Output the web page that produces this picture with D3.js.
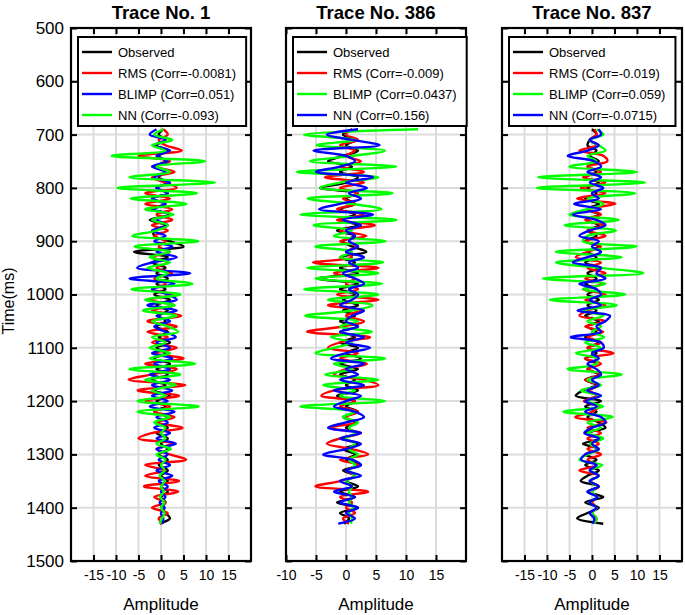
<!DOCTYPE html>
<html>
<head>
<meta charset="utf-8">
<script src="https://cdn.jsdelivr.net/npm/d3@7/dist/d3.min.js"></script>
<style>
  body { margin: 0; background: #fff; }
  svg { font-family: 'Liberation Sans', Arial, Helvetica, sans-serif; }
</style>
</head>
<body>
<svg id="chart" width="685" height="615"></svg>
<script>

// ---- Data ----

// Sample times (ms)
const times = [
  690, 700, 710, 720, 730, 740, 750, 760, 770, 780,
  790, 800, 810, 820, 830, 840, 850, 860, 870, 880,
  890, 900, 910, 920, 930, 940, 950, 960, 970, 980,
  990, 1000, 1010, 1020, 1030, 1040, 1050, 1060, 1070, 1080,
  1090, 1100, 1110, 1120, 1130, 1140, 1150, 1160, 1170, 1180,
  1190, 1200, 1210, 1220, 1230, 1240, 1250, 1260, 1270, 1280,
  1290, 1300, 1310, 1320, 1330, 1340, 1350, 1360, 1370, 1380,
  1390, 1400, 1410, 1420, 1430
];

const timeTicks = [500, 600, 700, 800, 900, 1000, 1100, 1200, 1300, 1400, 1500];
const timeDomain = [500, 1500];

const titles = ['Trace No. 1', 'Trace No. 386', 'Trace No. 837'];

const ampDomain1 = [-20, 20];
const ampDomain2 = [-10, 20];
const ampDomain3 = [-20, 20];
const ampTicks1 = [-15, -10, -5, 0, 5, 10, 15];
const ampTicks2 = [-10, -5, 0, 5, 10, 15];
const ampTicks3 = [-15, -10, -5, 0, 5, 10, 15];

const labels1 = ['Observed', 'RMS (Corr=-0.0081)', 'BLIMP (Corr=0.051)', 'NN (Corr=-0.093)'];
const labels2 = ['Observed', 'RMS (Corr=-0.009)', 'BLIMP (Corr=0.0437)', 'NN (Corr=0.156)'];
const labels3 = ['Observed', 'RMS (Corr=-0.019)', 'BLIMP (Corr=0.059)', 'NN (Corr=-0.0715)'];

// Trace No. 1
const obs1 = [
  0.5, -0.5, 1, -1, 1.5, -0.5, 1, -1.5, 1, -0.5,
  1.5, -1, 1.5, -2, 1, -2, 2, -2.5, 1, -1.5,
  -1.5, 2, 5, -6, 1.5, -2, 1, -1, 1.5, -1,
  1, -1.5, 2, -1, 1.5, -0.5, 1, -1, 1.5, -0.5,
  2, -1, 1, -1.5, 2, -1, 1.5, -2, 1, -1.5,
  2, -1, 1, -1.5, 1.5, -0.5, 1.5, -1, 1.5, 0,
  1.5, -0.5, 1.5, -0.5, 1.5, 0, 1.5, 0, 1.5, 0,
  1, 0, 1, 2, -0.3
];
const rms1 = [
  0.5, 1.5, -0.5, 1, 4.6, -5, 2, -1, 3, -2,
  1, 3.5, -3.5, 2, -3.5, 2.5, -1, 2.5, -2, 1.5,
  -1.5, 1, -0.5, 2, -2, 1.5, -1, 2.5, -1.5, 1,
  -2, 2.5, -2.5, 3, -2, 4.5, -3, 3.5, -3, 1.5,
  -2, 3.5, -1.5, 5, -3.5, 3.5, -2, -7.2, 5.4, -5.2,
  4, -3.5, 2, -1.5, 3, -1, 4.8, -2, -5, 2.5,
  -1, 2, 5.6, -3.5, 1, -3.5, 4, -3.8, 3.8, -1.5,
  1, -2, 1.5, -0.5, 0.5
];
const blimp1 = [
  -1, -2.5, 1, -1.5, 2, -1, 1.5, -2, 1, -1.5,
  2, -1, 1.5, -2, 1, -1.5, 2, -1, 1.5, -2,
  1, -1.5, 2.5, -1, 3.5, -2, -5.3, 6.5, -7, 3,
  -2, 1.5, 3.5, -3, 3.5, -1, 2, -1.5, 1, 3.3,
  -1, 2, -2, 2.5, -1.5, 2, -2.5, 2, -2, 2.5,
  -2, 1.5, -2.5, 3, -1, 1.5, -1.5, 2, -1, 3.3,
  -1, 1.5, -0.5, 2, -1, 2.5, -0.5, 1.5, 0, 1,
  -0.3, 0.8, 0, 0.5, 0.3
];
const nn1 = [
  0.5, -1.5, 2.5, -2, 1, -11, 9.8, -1, 2, -7,
  12, -9.7, 8, -6.8, 5.6, -3.5, 2.8, -2, 1.5, -1,
  -6.4, 8.3, -5.9, 2, -2.5, 2, -3, 1.5, -1, 7,
  -6.6, 4.3, -3.5, 3, -4, 3.5, -2, 1.5, 3.8, -2,
  1, -2.5, 2, -2.5, 7.6, -7, 4.3, -3.5, 3.3, -2,
  1, -5.2, 8.4, -5.2, 2, -1.5, 1, 0, 1, -1,
  2.2, -1, 1, 0, 0.8, -0.3, 0.8, 0, 0.6, -0.2,
  0.7, 0, 0.8, 0.2, -0.3
];

// Trace No. 386
const obs2 = [
  1, -0.5, 1.5, 0, 2, -0.5, -3, 1, -1, 2,
  0, -4.3, 2, 0, 1.5, -1, 1.5, -1, 2, -1.5,
  1.5, -0.5, 1, 3.4, -1, 1.5, -1, 2, -4.6, 2,
  -1, 1.5, -0.5, 2, -0.5, 1.5, -1, 2, -1, 1.5,
  -1, 2, 0, 2.5, -1, 2, -1, 1.5, 0, 2,
  -1.5, 1.5, 0, 2, -0.5, 1.5, 0, 2, -0.5, 2,
  -0.5, 1.5, 0, 2.5, -0.5, 1.5, 0, 2, -1, 1.5,
  -1.5, 2, -1, 0.5, -0.3
];
const rms2 = [
  1, 0, 2, -1, 1.5, 0, 2.5, -1, 3, -3.5,
  3, -1, 2, -0.5, 1.5, -1.5, 3, -1.5, 4.8, -1,
  3.4, -1, 2, 0, 1, -5.5, 5.4, -2, 1.5, 0,
  2, -1.5, 5.4, -3, 2.5, 0, 3, -0.5, -6.5, 4,
  -1, -3, 2, -1, 3.5, 0, -2, 3, 5.4, -2,
  -4.1, 1.5, -1, 2, 0, 1.5, -2.8, 2.5, -1, -3.2,
  1, 3.7, -1, 2, 0, 1.5, -1, -5.1, 3.7, -1,
  1, 0, 1.5, -0.5, 0.5
];
const blimp2 = [
  12, -7, 1.5, -4.9, 6.5, 1, -6, 8.4, -8.2, 5.4,
  -1, -4.3, 7.8, -6.4, 1, 5.9, -7.6, 8.4, -5.4, 1,
  -2, 6.6, -5.1, 1, -1, 6.2, -6.5, 5.4, -5.1, 6,
  -7, 5.4, -3, 4.4, 1, -6.8, 2, -1, 4.3, -2.5,
  1, -2, -5.1, 6.5, -2, 1, -3.5, 5.4, -3.8, 1.5,
  -1, 6.5, -7.6, 1.5, -0.5, 2, 0.5, 1.5, 0, 1.5,
  0.5, 2, 0.5, 1.5, 0.5, 1.5, 0, 1, 0.5, 1,
  0.5, 1.2, 0.5, 1, 0.8
];
const nn2 = [
  2, -3.2, 1, 5.6, -5.4, 0, 1.5, -1, -5, 4.5,
  0, 3.5, 0.5, 2.5, -1, -4.5, 4.5, -0.5, 2.5, 0,
  1.5, 0.5, 2, 0, 3, 0.5, 2, -0.5, 1.5, 3,
  0.5, 2, 1, -1, 3, 1, 0, 2, -1, 3,
  0, 4, 0, -2.5, 3, 0, 2, -1, 3, -2,
  2.5, 0, -2, 1.5, 3, 0, -3, 2.5, -1, 2.5,
  0, -3.8, 1, 2.5, 0, 2.5, -1, 1, -2, 1.5,
  -1, 2, 0, 1.5, -1.3
];

// Trace No. 837
const obs3 = [
  0, 1, -0.5, -1, 1, -0.5, 1.5, -1, 1, -1.5,
  1.5, -1, 1, -1.5, 1.5, -1, 1.5, -1, 1.5, -1,
  1, -1.5, 1.5, -1, 1, -1.5, 1.5, -1, 1, -1.5,
  1, -1, 1.5, -1, 1, -1.5, 1.5, -1, 1, -1.5,
  1.5, -1, 1, -1.5, 1, -1, 1.5, -1.5, 1, -2,
  -3.6, 2, -1.5, 1, -1, 1.5, 3, -1.5, 2, -2,
  1.5, -1.5, 1, -1.5, 1.5, -1, -2.5, 1.5, -1, 2.5,
  -1.5, 1.5, -1, -3.3, 2.5
];
const rms3 = [
  0.5, 1, -0.5, 1, -2.8, 2.6, 3.4, -1, 2, -2,
  3, -2.5, 3, -3.3, 5.2, -1, 2, -1.5, 2.5, -1,
  3, -1.5, 2, -1, -3.6, 2, -1, 3, -1.5, 2.5,
  -2, 3, -1.5, 3, -1, -2.8, 3, -1.5, 2.5, -1,
  2, -1, 4.8, -1.5, 2, -1, 2, -1.5, 1.5, -0.5,
  1, -1.8, 1.5, 0, -3.7, 3.2, -1, 2, -1, 1.5,
  -1, 2, -1, 1, -2.8, 1.5, -0.5, 1.5, 0, 1,
  0, 1, 0, 1, 0.5
];
const blimp3 = [
  1, 2.5, -0.5, 1.5, 3, -1, 1, -5, 10, -12,
  11.8, -12.3, 9.6, -1, 2.5, -1, -5, 5.9, -6.1, 5.3,
  -1, -2, 9.9, -8.1, 6.6, -8, 2, 11.4, -10.9, 3,
  -2, 7.4, -9.4, 5.5, -2, 2.5, -1, 2, 0, 2.7,
  -1.5, 2, -3.6, 1, 1, -5.4, 6.6, -1, 2, -2.5,
  1.5, -1, 2.5, -6.4, 4.6, -1, 2, -1, 2.5, -0.5,
  1.5, -1, -2.8, 2.3, -0.5, 1.5, -0.5, 1.2, 0, 1,
  -0.5, 1, 0, 1, 0.5
];
const nn3 = [
  1.5, 2, -0.5, 1.5, -1, -5.4, 0.5, 2, -1, 2,
  -0.5, 2.5, 0, 1.5, -4, 2, -4.3, 1, 3, -0.5,
  -2.8, 1.5, 0, 2, -1, -4.3, 2, 1, 3, -2.8,
  1, 2, -0.5, 2, -3.2, 4, 3, 1, 2, -4.7,
  2, 2.6, 0, 1.5, -1, 1, 2, 0, 1.5, -1,
  2, -1.5, 1, -1.5, 2, 3, 0, -1.7, 1.5, 0,
  1.5, -1.5, -2.4, 1, -0.5, 1.5, -0.5, 1.5, -1, 1.2,
  -0.5, 1, -0.5, 0.5, 0.2
];

// ---- Layout & styles ----
const plotTop = 28;
const plotBottom = 561;
const panelLeft = [71, 286, 502];
const panelWidth = 180;
const tickLen = 6;
const gridColor = '#dcdcdc';
const traceWidth = 2.4;
const colorsA = ['#000000', '#ff0000', '#0000ff', '#00ff00'];  // obs, rms, blimp, nn
const colorsB = ['#000000', '#ff0000', '#00ff00', '#0000ff'];

const panels = [
  { title: titles[0], domain: ampDomain1, ticks: ampTicks1, series: [obs1, rms1, blimp1, nn1], labels: labels1, colors: colorsA },
  { title: titles[1], domain: ampDomain2, ticks: ampTicks2, series: [obs2, rms2, blimp2, nn2], labels: labels2, colors: colorsB },
  { title: titles[2], domain: ampDomain3, ticks: ampTicks3, series: [obs3, rms3, blimp3, nn3], labels: labels3, colors: colorsB },
];

const svg = d3.select('#chart');

const y = d3.scaleLinear()
  .domain(timeDomain)
  .range([plotTop, plotBottom]);

/**
 * Draws one trace panel.
 */
function drawPanel(p, i) {
  const left = panelLeft[i];
  const right = left + panelWidth;
  const x = d3.scaleLinear().domain(p.domain).range([left, right]);
  const g = svg.append('g').classed('panel', true);

  // Grid lines
  g.append('g')
    .selectAll('line')
    .data(p.ticks)
    .join('line')
    .attr('x1', d => x(d)).attr('x2', d => x(d))
    .attr('y1', plotTop).attr('y2', plotBottom)
    .attr('stroke', gridColor)
    .attr('stroke-width', 2);

  g.append('g')
    .selectAll('line')
    .data(timeTicks.slice(1, -1))
    .join('line')
    .attr('x1', left).attr('x2', right)
    .attr('y1', d => y(d)).attr('y2', d => y(d))
    .attr('stroke', gridColor)
    .attr('stroke-width', 2);

  // Traces
  const line = d3.line()
    .x(d => x(d[1]))
    .y(d => y(d[0]))
    .curve(d3.curveCatmullRom.alpha(0.5));

  p.series.forEach((s, k) => {
    g.append('path')
      .datum(times.map((t, j) => [t, s[j]]))
      .attr('d', line)
      .attr('fill', 'none')
      .attr('stroke', p.colors[k])
      .attr('stroke-width', traceWidth)
      .attr('stroke-linejoin', 'round');
  });

  // Axes, ticks point inwards
  const fmt = d => String(d);
  const styleAxis = sel => {
    sel.select('.domain').remove();
    sel.selectAll('.tick line').attr('stroke', '#000').attr('stroke-width', 2);
    sel.selectAll('.tick text').attr('fill', '#000');
  };

  g.append('g')
    .attr('transform', `translate(0,${plotBottom})`)
    .call(d3.axisBottom(x).tickValues(p.ticks).tickFormat(fmt)
      .tickSizeInner(-tickLen).tickSizeOuter(0).tickPadding(9))
    .call(styleAxis)
    .selectAll('.tick text')
    .style('font-size', '14px')
    .style('font-family', null);

  g.append('g')
    .attr('transform', `translate(0,${plotTop})`)
    .call(d3.axisTop(x).tickValues(p.ticks).tickFormat('')
      .tickSizeInner(-tickLen).tickSizeOuter(0))
    .call(styleAxis);

  const leftAxis = d3.axisLeft(y).tickValues(timeTicks)
    .tickSizeInner(-tickLen).tickSizeOuter(0).tickPadding(7)
    .tickFormat(i === 0 ? fmt : '');

  g.append('g')
    .attr('transform', `translate(${left},0)`)
    .call(leftAxis)
    .call(styleAxis)
    .selectAll('.tick text')
    .style('font-size', '17px');

  g.append('g')
    .attr('transform', `translate(${right},0)`)
    .call(d3.axisRight(y).tickValues(timeTicks).tickFormat('')
      .tickSizeInner(-tickLen).tickSizeOuter(0))
    .call(styleAxis);

  // Box
  g.append('rect')
    .attr('x', left).attr('y', plotTop)
    .attr('width', panelWidth).attr('height', plotBottom - plotTop)
    .attr('fill', 'none')
    .attr('stroke', '#000')
    .attr('stroke-width', 2.2);

  // Title
  g.append('text')
    .attr('x', (left + right) / 2)
    .attr('y', 19)
    .attr('text-anchor', 'middle')
    .style('font-size', '18.5px')
    .style('font-weight', 'bold')
    .text(p.title);

  // X label
  g.append('text')
    .attr('x', (left + right) / 2)
    .attr('y', 610)
    .attr('text-anchor', 'middle')
    .style('font-size', '17px')
    .text('Amplitude');

  // Legend
  const lg = g.append('g')
    .attr('transform', `translate(${left + 7},${plotTop + 9})`);
  const box = lg.append('rect')
    .attr('fill', '#fff')
    .attr('stroke', '#000')
    .attr('stroke-width', 2);

  let maxW = 0;
  p.labels.forEach((label, k) => {
    const cy = 15 + k * 21;
    lg.append('line')
      .attr('x1', 4).attr('x2', 34)
      .attr('y1', cy).attr('y2', cy)
      .attr('stroke', p.colors[k])
      .attr('stroke-width', 2.4);
    const t = lg.append('text')
      .attr('x', 40).attr('y', cy)
      .attr('dy', '0.35em')
      .style('font-size', '13px')
      .text(label);
    maxW = Math.max(maxW, t.node().getComputedTextLength());
  });

  box.attr('x', 0).attr('y', 0)
    .attr('width', 40 + maxW + 10)
    .attr('height', 89);
}

panels.forEach(drawPanel);

// Y label
svg.append('text')
  .attr('transform', `translate(14,301) rotate(-90)`)
  .attr('text-anchor', 'middle')
  .style('font-size', '16px')
  .text('Time(ms)');

</script>
</body>
</html>
